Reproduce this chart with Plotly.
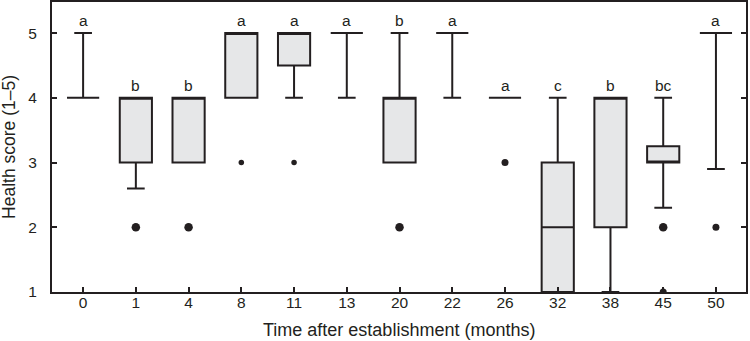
import plotly.graph_objects as go

# ---- data ----
months = ["0", "1", "4", "8", "11", "13", "20", "22", "26", "32", "38", "45", "50"]
q1 = [4, 3, 3, 4, 4.5, 5, 3, 5, 4, 1, 2, 3, 5]
median = [4, 4, 4, 5, 5, 5, 4, 5, 4, 2, 4, 3, 5]
q3 = [4, 4, 4, 5, 5, 5, 4, 5, 4, 3, 4, 3.25, 5]
lower_fence = [4, 2.6, 3, 4, 4, 4, 3, 4, 4, 1, 1, 2.3, 2.9]
upper_fence = [5, 4, 4, 5, 5, 5, 5, 5, 4, 4, 4, 4, 5]
letters = ["a", "b", "b", "a", "a", "a", "b", "a", "a", "c", "b", "bc", "a"]

outlier_x = ["1", "4", "8", "11", "20", "26", "45", "45", "50"]
outlier_y = [2, 2, 3, 3, 2, 3, 2, 1, 2]
outlier_count = [3, 3, 1, 1, 3, 2, 3, 2, 2]

y_ticks = [1, 2, 3, 4, 5]
x_title = "Time after establishment (months)"
y_title = "Health score (1–5)"

# ---- style ----
LINE = "#231f20"
FILL = "#e6e7e8"
FONT = "Liberation Sans, Arial, sans-serif"
size_map = {1: 5.5, 2: 7, 3: 8.5}

fig = go.Figure()
fig.add_trace(go.Box(
    x=months, q1=q1, median=median, q3=q3,
    lowerfence=lower_fence, upperfence=upper_fence,
    boxpoints=False, width=0.61, whiskerwidth=0.55,
    fillcolor=FILL, line=dict(color=LINE, width=2),
    showlegend=False, hoverinfo="skip",
))
fig.add_trace(go.Scatter(
    x=outlier_x, y=outlier_y, mode="markers",
    marker=dict(color=LINE, opacity=1, size=[size_map[c] for c in outlier_count],
                line=dict(width=0)),
    showlegend=False, hoverinfo="skip",
))

# significance letters (category index positions)
for i, (uf, t) in enumerate(zip(upper_fence, letters)):
    fig.add_annotation(x=i, y=uf, text=t, showarrow=False, xref="x", yref="y",
                       yanchor="bottom", yshift=2,
                       font=dict(family=FONT, size=15.5, color=LINE))

# axis titles
fig.add_annotation(x=0.5, y=-0.088, xref="paper", yref="paper", text=x_title,
                   showarrow=False, yanchor="top",
                   font=dict(family=FONT, size=18, color=LINE))
fig.add_annotation(x=-0.062, y=0.5, xref="paper", yref="paper", text=y_title,
                   showarrow=False, textangle=-90, xanchor="center",
                   font=dict(family=FONT, size=17.5, color=LINE))

fig.update_layout(
    width=750, height=341,
    margin=dict(l=52, r=4, t=2, b=49),
    plot_bgcolor="white", paper_bgcolor="white",
    font=dict(family=FONT, size=15.5, color=LINE),
)
fig.update_xaxes(
    type="category", categoryorder="array", categoryarray=months,
    range=[-0.59, 12.57], automargin=False,
    showline=True, linecolor=LINE, linewidth=2, mirror=True,
    ticks="inside", ticklen=5, tickwidth=1.5, tickcolor=LINE,
    ticklabelstandoff=-5,
    showgrid=False, zeroline=False,
)
fig.update_yaxes(
    range=[1, 5.48], tickvals=y_ticks, automargin=False,
    showline=True, linecolor=LINE, linewidth=2, mirror="ticks",
    ticks="inside", ticklen=5, tickwidth=1.5, tickcolor=LINE,
    ticklabelstandoff=10,
    showgrid=False, zeroline=False,
)

fig.write_html("out.html", config={"displayModeBar": False},
               post_script="document.body.style.margin='0';")
